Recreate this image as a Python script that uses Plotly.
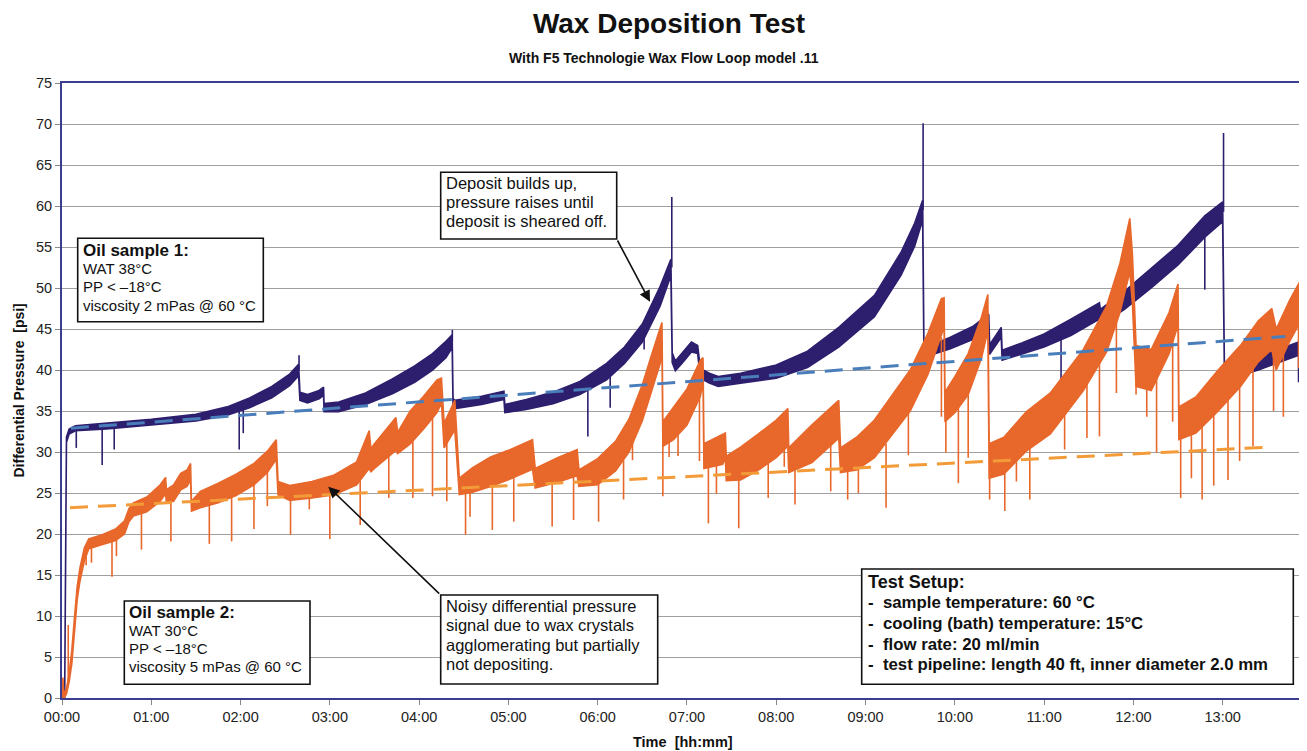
import plotly.graph_objects as go

# ---------------- data ----------------
title_text = "Wax Deposition Test"
subtitle_text = "With F5 Technologie Wax Flow Loop model .11"
x_title = "Time\u00a0\u00a0[hh:mm]"
y_title = "Differential Pressure\u00a0\u00a0[psi]"

tick_hours = list(range(14))
tick_labels = ["00:00", "01:00", "02:00", "03:00", "04:00", "05:00", "06:00",
               "07:00", "08:00", "09:00", "10:00", "11:00", "12:00", "13:00"]
y_ticks = [0, 5, 10, 15, 20, 25, 30, 35, 40, 45, 50, 55, 60, 65, 70, 75]

# Oil sample 1 (dark blue): time [h], lower and upper edge of the noise band [psi]
blue_t = [0.000, 0.030, 0.050, 0.080, 0.150, 0.500, 1.000, 1.500, 1.850, 2.100, 2.350, 2.550,
          2.650, 2.665, 2.750, 2.880, 2.930, 2.935, 3.100, 3.400, 3.700, 3.950, 4.150, 4.300,
          4.370, 4.380, 4.400, 4.700, 4.950, 4.960, 5.200, 5.500, 5.800, 6.100, 6.300, 6.500,
          6.700, 6.820, 6.835, 6.870, 6.950, 7.050, 7.120, 7.150, 7.250, 7.350, 7.600, 8.000,
          8.350, 8.700, 9.100, 9.400, 9.550, 9.640, 9.655, 9.750, 9.950, 10.200, 10.380, 10.390,
          10.520, 10.530, 10.750, 11.000, 11.300, 11.620, 11.630, 11.900, 12.200, 12.500, 12.800,
          13.000, 13.020, 13.100, 13.400, 13.700, 13.900]
blue_lo = [0.0, 0.0, 31.2, 32.2, 32.6, 32.8, 33.3, 33.8, 34.5, 35.4, 36.6, 38.1,
           39.3, 36.3, 36.0, 36.5, 36.9, 34.9, 34.9, 35.8, 37.1, 38.5, 40.0, 41.5,
           42.7, 35.5, 35.3, 35.8, 36.4, 34.8, 35.2, 35.9, 37.0, 38.8, 40.8, 43.4,
           47.8, 51.5, 40.9, 39.9, 40.9, 42.2, 42.0, 39.0, 38.4, 38.0, 38.4, 39.0,
           40.3, 42.8, 46.5, 51.6, 55.1, 58.3, 40.9, 41.9, 42.6, 43.7, 45.2, 41.9,
           44.0, 41.2, 41.9, 42.8, 44.2, 46.2, 45.4, 47.4, 50.0, 52.8, 56.2,
           58.1, 39.3, 39.0, 40.0, 41.2, 42.0]
blue_hi = [0.0, 0.6, 31.8, 32.8, 33.2, 33.5, 34.0, 34.6, 35.5, 36.6, 38.0, 39.5,
           40.7, 37.3, 37.0, 37.5, 37.9, 35.9, 36.1, 37.2, 38.9, 40.5, 42.0, 43.5,
           44.3, 36.5, 36.3, 36.8, 37.4, 35.8, 36.4, 37.3, 38.6, 40.8, 42.8, 45.6,
           50.2, 53.5, 42.1, 41.1, 42.1, 43.4, 43.0, 40.2, 39.6, 39.2, 39.6, 40.6,
           42.3, 45.2, 49.1, 54.4, 57.9, 60.7, 42.1, 43.1, 44.0, 45.3, 46.8, 43.1,
           45.2, 42.4, 43.3, 44.4, 46.2, 48.2, 47.4, 49.6, 52.4, 55.2, 58.8,
           60.5, 40.3, 40.2, 41.6, 42.8, 43.6]
# isolated spikes of sample 1: time, band level, spike tip
blue_spike_t = [0.16, 0.45, 0.585, 1.985, 2.03, 5.89, 6.14, 6.52, 11.19, 12.80, 13.85,
                2.655, 4.372, 6.83, 9.645, 13.01]
blue_spike_base = [32.7, 33.0, 33.1, 35.4, 35.6, 38.0, 39.8, 44.5, 44.5, 57.3, 42.5,
                   40.0, 43.5, 52.5, 59.5, 59.3]
blue_spike_tip = [30.5, 28.4, 30.3, 30.3, 32.3, 31.9, 35.4, 42.5, 38.2, 49.8, 38.5,
                  41.8, 44.9, 61.1, 70.1, 68.9]

# Oil sample 2 (orange)
orange_t = [0.000, 0.010, 0.020, 0.050, 0.080, 0.110, 0.140, 0.170, 0.200, 0.250, 0.300, 0.450,
            0.600, 0.700, 0.750, 0.800, 0.950, 1.100, 1.160, 1.170, 1.250, 1.330, 1.400, 1.440,
            1.450, 1.550, 1.750, 1.950, 2.150, 2.300, 2.400, 2.420, 2.550, 2.800, 3.050, 3.300,
            3.440, 3.460, 3.500, 3.740, 3.760, 3.900, 4.050, 4.200, 4.250, 4.280, 4.400, 4.450,
            4.600, 4.800,
            5.000, 5.270, 5.300, 5.550, 5.770, 5.790, 6.000, 6.200, 6.350, 6.500, 6.600, 6.700,
            6.720, 6.730, 6.850, 7.000, 7.150, 7.180, 7.190, 7.400, 7.430, 7.440, 7.600, 7.800,
            8.000, 8.130, 8.140, 8.400, 8.700, 8.720, 8.900, 9.100, 9.300, 9.500, 9.700, 9.850,
            9.880, 9.890, 10.000, 10.150, 10.300, 10.370, 10.385, 10.550, 10.800, 11.070, 11.440,
            11.700, 11.850, 11.960, 11.990, 12.030, 12.200, 12.400, 12.500, 12.510, 12.700,
            12.950, 13.200, 13.400, 13.550, 13.600, 13.750, 13.900]
orange_lo = [0.0, 0.0, 0.0, 0.5, 2.0, 4.2, 8.2, 12.0, 14.2, 16.7, 18.2, 18.7,
             19.2, 20.0, 21.5, 22.2, 22.7, 24.0, 24.9, 23.8, 24.0, 25.4, 25.8, 26.6,
             22.8, 23.2, 23.8, 24.7, 26.0, 27.5, 29.1, 24.8, 24.1, 24.4, 24.8, 26.0,
             28.0, 27.6, 28.0, 30.2, 29.8, 31.0, 32.8, 34.8, 36.0, 30.5, 32.7, 24.8,
             25.1, 25.8,
             26.6, 27.9, 25.6, 26.3, 27.1, 25.8, 26.0, 27.7, 30.0, 33.8, 37.3, 40.8,
             42.2, 30.7, 31.5, 33.3, 36.8, 38.5, 28.0, 28.5, 29.3, 26.5, 26.6, 27.8,
             29.3, 30.7, 27.5, 28.7, 31.7, 27.5, 27.8, 29.3, 32.1, 35.0, 39.5, 44.3,
             45.2, 33.7, 34.8, 37.0, 41.5, 44.8, 26.8, 27.3, 30.1, 32.2, 37.5,
             42.2, 47.0, 52.0, 48.0, 38.0, 37.5, 42.0, 45.5, 31.5, 32.3,
             35.0, 38.0, 41.0, 42.5, 40.0, 43.5, 46.5]
orange_hi = [0.5, 2.5, 0.5, 1.1, 3.0, 5.8, 9.8, 13.6, 15.8, 18.3, 19.4, 19.9,
             20.6, 21.6, 23.1, 23.8, 24.5, 26.0, 26.9, 25.4, 26.0, 27.4, 27.8, 28.6,
             24.0, 25.2, 26.2, 27.3, 28.6, 30.1, 31.5, 26.4, 25.9, 26.4, 27.2, 28.8,
             32.6, 30.4, 31.0, 34.2, 32.4, 35.0, 36.8, 38.8, 39.0, 33.5, 36.3, 26.8,
             28.1, 29.4,
             30.2, 31.5, 28.0, 29.3, 30.3, 27.8, 29.2, 31.3, 34.0, 38.2, 41.7, 45.2,
             45.8, 33.7, 35.5, 37.7, 41.2, 41.5, 31.0, 32.1, 32.3, 29.5, 30.6, 32.2,
             33.9, 35.3, 30.5, 33.3, 36.3, 30.5, 31.8, 33.9, 36.9, 40.0, 44.5, 48.7,
             48.8, 37.3, 39.2, 42.0, 46.5, 49.2, 31.0, 31.8, 34.9, 37.2, 42.5,
             47.8, 53.0, 58.5, 54.0, 43.0, 42.5, 47.0, 50.5, 35.5, 36.7,
             40.0, 43.0, 46.0, 47.5, 45.0, 48.5, 51.5]
orange_spike_t = [0.07, 0.27, 0.33, 0.56, 0.61, 0.89, 1.22, 1.65, 1.90, 2.15, 2.30, 2.56, 2.77,
                  3.00, 3.34, 3.66, 3.93, 4.15, 4.31, 4.52, 4.57, 4.82, 5.06, 5.49, 5.73, 6.01,
                  6.29, 6.39, 6.73, 6.80, 6.90, 7.14, 7.24, 7.33, 7.58, 7.91, 8.09, 8.21, 8.61,
                  8.80, 8.92, 9.23, 9.48, 9.85, 9.90, 10.04, 10.15, 10.39, 10.56, 10.69, 10.84,
                  11.23, 11.48, 11.62, 11.81, 12.03, 12.15, 12.26, 12.44, 12.53, 12.65, 12.77,
                  12.90, 13.06, 13.19, 13.34, 13.57, 13.68, 13.85]
orange_spike_base = [1.5, 18.5, 18.8, 19.5, 19.9, 23.3, 24.8, 24.5, 25.8, 27.0, 28.5, 24.6, 25.0,
                     25.5, 26.5, 29.5, 31.5, 34.5, 33.0, 25.5, 25.8, 26.5, 27.5, 26.8, 27.5, 26.5,
                     29.0, 32.5, 32.0, 32.5, 33.0, 38.0, 29.0, 29.5, 28.0, 30.0, 31.0, 29.0, 32.0,
                     28.5, 29.0, 31.0, 36.0, 44.0, 35.0, 36.0, 38.0, 30.0, 29.0, 30.5, 31.5,
                     36.0, 39.0, 42.0, 46.0, 42.0, 40.0, 40.5, 45.0, 33.5, 34.0, 35.0,
                     36.5, 38.0, 40.0, 42.0, 44.0, 42.5, 47.5]
orange_spike_tip = [8.9, 16.2, 16.5, 14.8, 17.3, 18.1, 19.1, 18.8, 19.1, 20.6, 23.4, 19.9, 23.0,
                    19.4, 21.1, 24.4, 24.4, 24.6, 24.0, 19.9, 22.1, 20.5, 21.5, 20.9, 21.7, 21.5,
                    24.2, 29.0, 24.6, 29.4, 29.5, 28.9, 21.3, 24.9, 20.7, 24.4, 28.2, 23.6, 25.2,
                    24.2, 25.0, 23.2, 29.6, 34.3, 29.9, 26.2, 29.3, 24.2, 22.8, 26.4, 24.2,
                    30.3, 31.7, 31.9, 37.2, 37.0, 34.3, 29.9, 33.7, 24.4, 26.8, 24.2,
                    25.9, 26.6, 28.9, 30.7, 35.0, 34.3, 40.2]

# linear trend lines (end points)
blue_trend_t = [0.10, 13.70]
blue_trend_v = [32.9, 44.1]
orange_trend_t = [0.09, 13.53]
orange_trend_v = [23.2, 30.6]

box1_lines = ["Oil sample 1:", "WAT 38°C", "PP &lt; \u201318°C", "viscosity 2 mPas @ 60 °C"]
box2_lines = ["Oil sample 2:", "WAT 30°C", "PP &lt; \u201318°C", "viscosity 5 mPas @ 60 °C"]
box3_lines = ["Deposit builds up,", "pressure raises until", "deposit is sheared off."]
box4_lines = ["Noisy differential pressure", "signal due to wax crystals",
              "agglomerating but partially", "not depositing."]
box5_lines = ["Test Setup:",
              "-\u00a0\u00a0sample temperature: 60 °C",
              "-\u00a0\u00a0cooling (bath) temperature: 15°C",
              "-\u00a0\u00a0flow rate: 20 ml/min",
              "-\u00a0\u00a0test pipeline: length 40 ft, inner diameter 2.0 mm"]

# ---------------- styling ----------------
BLUE = "#2E1E6E"
ORANGE = "#E8672A"
BLUE_TREND = "#4A7EBB"
ORANGE_TREND = "#F29B38"
FONT = "Liberation Sans, Arial, sans-serif"

OFF = 8                      # default page margin of the html body
PAGE_W, PAGE_H = 1307, 751
X0, X1, Y0, Y1 = 62, 1303, 83, 698   # plot area in page pixels
W, H = PAGE_W - OFF, PAGE_H - OFF
L, T = X0 - OFF, Y0 - OFF
R, B = W - (X1 - OFF), H - (Y1 - OFF)
PW, PH = X1 - X0, Y1 - Y0


def px(xp):
    return (xp - X0) / PW


def py(yp):
    return (Y1 - yp) / PH


def band_trace(t, lo, hi, color):
    return go.Scatter(x=list(t) + list(t)[::-1], y=list(hi) + list(lo)[::-1],
                      mode="lines", fill="toself", fillcolor=color,
                      line=dict(color=color, width=1.6), hoverinfo="skip")


def spike_trace(t, base, tip, color):
    xs, ys = [], []
    for a, b, c in zip(t, base, tip):
        xs += [a, a, None]
        ys += [b, c, None]
    return go.Scatter(x=xs, y=ys, mode="lines", line=dict(color=color, width=1.6),
                      hoverinfo="skip")


fig = go.Figure()
fig.add_trace(band_trace(blue_t, blue_lo, blue_hi, BLUE))
fig.add_trace(spike_trace(blue_spike_t, blue_spike_base, blue_spike_tip, BLUE))
fig.add_trace(band_trace(orange_t, orange_lo, orange_hi, ORANGE))
fig.add_trace(spike_trace(orange_spike_t, orange_spike_base, orange_spike_tip, ORANGE))
fig.add_trace(go.Scatter(x=blue_trend_t, y=blue_trend_v, mode="lines",
                         line=dict(color=BLUE_TREND, width=3, dash="18px,10px")))
fig.add_trace(go.Scatter(x=orange_trend_t, y=orange_trend_v, mode="lines",
                         line=dict(color=ORANGE_TREND, width=3, dash="18px,10px")))

shapes = []
annotations = []


def add_box(x0, y0, x1, y1):
    shapes.append(dict(type="rect", xref="paper", yref="paper",
                       x0=px(x0), x1=px(x1), y0=py(y1), y1=py(y0),
                       line=dict(color="#111111", width=1.6), fillcolor="white",
                       layer="above"))


def add_lines(lines, xleft, ycenters, sizes, bolds):
    for txt, yc, s, b in zip(lines, ycenters, sizes, bolds):
        annotations.append(dict(xref="paper", yref="paper", x=px(xleft), y=py(yc),
                                xanchor="left", yanchor="middle", showarrow=False,
                                text=("<b>%s</b>" % txt) if b else txt,
                                font=dict(family=FONT, size=s, color="#111111")))


add_box(77.7, 238.3, 263.3, 321.7)
add_lines(box1_lines, 80.5, [250.5, 268.5, 286.7, 305.0], [17, 15, 15, 15],
          [True, False, False, False])
add_box(124.3, 601.0, 310.0, 684.3)
add_lines(box2_lines, 127.0, [612.0, 630.7, 648.5, 666.7], [17, 15, 15, 15],
          [True, False, False, False])
add_box(440.7, 172.3, 616.7, 239.0)
add_lines(box3_lines, 443.5, [183.0, 202.0, 221.0], [16.5] * 3, [False] * 3)
add_box(440.7, 595.0, 657.7, 684.0)
add_lines(box4_lines, 443.5, [605.5, 625.0, 644.5, 664.3], [16.5] * 4, [False] * 4)
add_box(861.7, 569.0, 1293.3, 684.3)
add_lines(box5_lines, 865.5, [581.5, 602.5, 623.3, 644.3, 664.3], [18, 16.8, 16.8, 16.8, 16.8],
          [True] * 5)

# arrows
annotations.append(dict(xref="paper", yref="paper", x=px(650.0), y=py(301.7),
                        ax=616.7 - 650.0, ay=239.0 - 301.7, axref="pixel", ayref="pixel",
                        text="", showarrow=True, arrowhead=2, arrowsize=1.4,
                        arrowwidth=1.6, arrowcolor="#111111", standoff=0))
annotations.append(dict(xref="paper", yref="paper", x=px(328.3), y=py(486.7),
                        ax=440.7 - 328.3, ay=595.0 - 486.7, axref="pixel", ayref="pixel",
                        text="", showarrow=True, arrowhead=2, arrowsize=1.4,
                        arrowwidth=1.6, arrowcolor="#111111", standoff=0))

# subtitle and axis titles
annotations.append(dict(xref="paper", yref="paper", x=px(663.5), y=py(58), showarrow=False,
                        xanchor="center", yanchor="middle",
                        text="<b>%s</b>" % subtitle_text,
                        font=dict(family=FONT, size=14, color="#111111")))
annotations.append(dict(xref="paper", yref="paper", x=px(683), y=py(742), showarrow=False,
                        xanchor="center", yanchor="middle", text="<b>%s</b>" % x_title,
                        font=dict(family=FONT, size=14.5, color="#111111")))
annotations.append(dict(xref="paper", yref="paper", x=px(18), y=py(390.5), showarrow=False,
                        xanchor="center", yanchor="middle", textangle=-90,
                        text="<b>%s</b>" % y_title,
                        font=dict(family=FONT, size=14, color="#111111")))

fig.update_layout(
    width=W, height=H,
    margin=dict(l=L, r=R, t=T, b=B, autoexpand=False),
    paper_bgcolor="white", plot_bgcolor="white",
    showlegend=False,
    title=dict(text="<b>%s</b>" % title_text, x=(669 - OFF) / W, y=1 - (23 - OFF) / H,
               xanchor="center", yanchor="middle", xref="container", yref="container",
               automargin=False,
               font=dict(family=FONT, size=28, color="#111111")),
    xaxis=dict(range=[0, 13.9], tickvals=tick_hours, ticktext=tick_labels,
               ticks="outside", ticklen=5, tickcolor="#888888", showgrid=False,
               showline=True, linecolor="#3D3D8F", linewidth=2, mirror=True,
               zeroline=False, automargin=False,
               tickfont=dict(family=FONT, size=14.5, color="#222222")),
    yaxis=dict(range=[0, 75], tickvals=y_ticks, ticks="outside", ticklen=5,
               tickcolor="#888888", showgrid=True, gridcolor="#A0A0A0", gridwidth=1,
               showline=True, linecolor="#3D3D8F", linewidth=2, mirror=True,
               zeroline=False, automargin=False,
               tickfont=dict(family=FONT, size=14.5, color="#222222")),
    shapes=shapes,
    annotations=annotations,
)

fig.write_html("out.html")
